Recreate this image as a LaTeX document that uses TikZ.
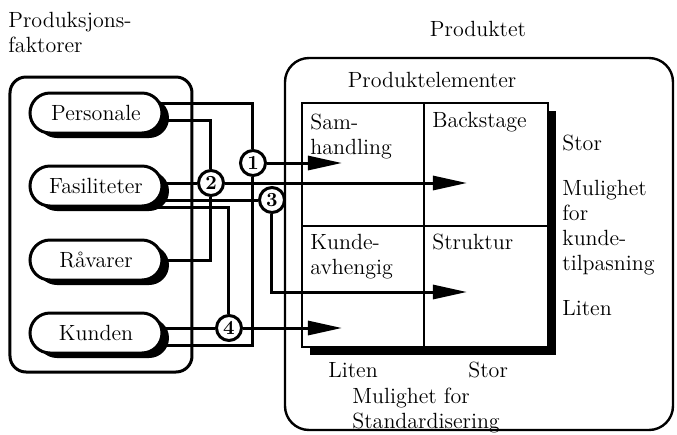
\documentclass[tikz,border=0pt]{standalone}
\usetikzlibrary{arrows.meta,shadows,backgrounds}
\begin{document}
\begin{tikzpicture}[x=0.5pt,y=-0.5pt,
  font=\fontsize{11}{12.5}\selectfont,
  factor/.style={draw,line width=1.5pt,fill=white,rounded corners=10pt,
    minimum width=66pt,minimum height=20pt,
    general shadow={fill=black,shadow xshift=3.5pt,shadow yshift=-2.5pt}},
  joint/.style={circle,draw,line width=1.5pt,fill=white,inner sep=0pt,
    minimum size=12.5pt,font=\fontsize{10}{10}\selectfont\bfseries},
  wire/.style={line width=1.5pt},
  flow/.style={wire,-{Triangle[length=17pt,width=7pt]}},
  txt/.style={inner sep=0pt,align=left}]
  \useasboundingbox (0,0) rectangle (677,435);

  % headings
  \node[txt,anchor=north west] (prodfak) at (8,12) {Produksjons-\\faktorer};
  \node[txt,anchor=base] (produktet) at (478,36) {Produktet};
  \node[txt] (elementer) at (432,80) {Produktelementer};

  % frames
  \draw[line width=1.5pt,rounded corners=8pt] (10,77) rectangle (192,372);
  \draw[line width=1.2pt,rounded corners=12pt] (285,58) rectangle (673,430);

  % matrix of product elements
  \fill (548,111) rectangle (556,355);
  \fill (310,347) rectangle (556,355);
  \draw[line width=1.2pt] (302,103) rectangle (548,347);
  \draw[line width=1.2pt] (424,103) -- (424,347);
  \draw[line width=1.2pt] (302,226) -- (548,226);
  \node[txt,anchor=north west] (samhandling) at (310,114) {Sam-\\handling};
  \node[txt,anchor=base west] (backstage) at (432,127) {Backstage};
  \node[txt,anchor=north west] (kundeavh) at (310,234) {Kunde-\\avhengig};
  \node[txt,anchor=north west] (struktur) at (432,234) {Struktur};

  % axes
  \node[txt,anchor=base west] (storR) at (562,150) {Stor};
  \node[txt,anchor=north west] (tilpasning) at (562,180) {Mulighet\\for\\kunde-\\tilpasning};
  \node[txt,anchor=base west] (litenR) at (562,315) {Liten};
  \node[txt,anchor=base west] (litenB) at (328,377) {Liten};
  \node[txt,anchor=base west] (storB) at (468,377) {Stor};
  \node[txt,anchor=north west] (standard) at (352,388) {Mulighet for\\Standardisering};

  % production factors
  \node[factor] (personale) at (96,113) {Personale};
  \node[factor] (fasiliteter) at (96,186) {Fasiliteter};
  \node[factor] (raavarer) at (96,260) {Råvarer};
  \node[factor] (kunden) at (96,333) {Kunden};

  % joints
  \node[joint] (c1) at (253,163) {1};
  \node[joint] (c2) at (211,183) {2};
  \node[joint] (c3) at (272,200) {3};
  \node[joint] (c4) at (229,328) {4};

  \coordinate (t1) at (342,163);
  \coordinate (t2) at (467,183);
  \coordinate (t3) at (467,292);
  \coordinate (t4) at (342,328);

  \begin{scope}[on background layer]
    \draw[wire] ([yshift=5pt]personale.center) -| (c1);
    \draw[wire] ([yshift=-6pt]kunden.center) -| (c1);
    \draw[wire] ([yshift=-3.5pt]personale.center) -| (c2);
    \draw[wire] (fasiliteter.center |- c2) -- (c2);
    \draw[wire] (raavarer.center) -| (c2);
    \draw[wire] (fasiliteter.center |- c3) -- (c3);
    \draw[wire] ([yshift=-10.5pt]fasiliteter.center) -| (c4);
    \draw[wire] (kunden.center |- c4) -- (c4);
    \draw[flow] (c1) -- (t1);
    \draw[flow] (c2) -- (t2);
    \draw[flow] (c3) |- (t3);
    \draw[flow] (c4) -- (t4);
  \end{scope}
\end{tikzpicture}
\end{document}
